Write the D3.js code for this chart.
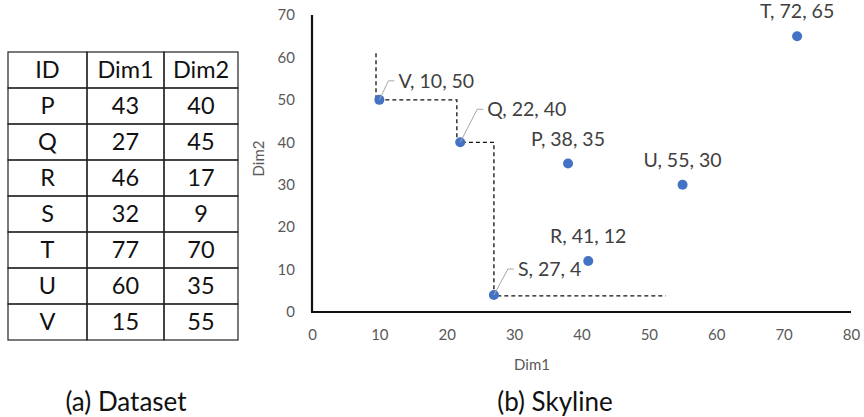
<!DOCTYPE html>
<html>
<head>
<meta charset="utf-8">
<script src="https://cdn.jsdelivr.net/npm/d3@7/dist/d3.min.js"></script>
<style>
  html, body { margin: 0; padding: 0; background: #fff; }
  svg { display: block; font-family: Lato, "Open Sans", sans-serif; }
</style>
</head>
<body>
<svg id="chart" width="864" height="417"></svg>
<script>
// ---- Data ----
const tableHeader = ["ID", "Dim1", "Dim2"];
const tableIds = ["P", "Q", "R", "S", "T", "U", "V"];
const tableDim1 = [43, 27, 46, 32, 77, 60, 15];
const tableDim2 = [40, 45, 17, 9, 70, 35, 55];

const pointIds = ["V", "Q", "P", "U", "T", "R", "S"];
const pointDim1 = [10, 22, 38, 55, 72, 41, 27];
const pointDim2 = [50, 40, 35, 30, 65, 12, 4];

const skylineX = [9.5, 9.5, 21.5, 21.5, 27, 27, 52.5];
const skylineY = [61, 50, 50, 40, 40, 3.8, 3.8];

const xTicks = [0, 10, 20, 30, 40, 50, 60, 70, 80];
const yTicks = [0, 10, 20, 30, 40, 50, 60, 70];

const captions = ["(a) Dataset", "(b) Skyline"];

// ---- Layout ----
const svg = d3.select("#chart");
const x = d3.scaleLinear().domain([0, 80]).range([312, 851]);
const y = d3.scaleLinear().domain([0, 70]).range([312, 15]);

// Table
const tbl = { left: 8, top: 52, colW: [79, 77, 74], rowH: 36 };
const rows = [tableHeader].concat(tableIds.map((id, i) => [id, String(tableDim1[i]), String(tableDim2[i])]));
const colX = [tbl.left];
tbl.colW.forEach((w, i) => colX.push(colX[i] + w));
const tg = svg.append("g");
rows.forEach((r, ri) => {
  r.forEach((cell, ci) => {
    tg.append("rect")
      .attr("x", colX[ci]).attr("y", tbl.top + ri * tbl.rowH)
      .attr("width", tbl.colW[ci]).attr("height", tbl.rowH)
      .attr("fill", "none").attr("stroke", "#222").attr("stroke-width", 1.2);
    tg.append("text")
      .attr("x", colX[ci] + tbl.colW[ci] / 2)
      .attr("y", tbl.top + ri * tbl.rowH + tbl.rowH / 2)
      .attr("dy", "0.36em")
      .attr("text-anchor", "middle")
      .attr("font-size", 23.5).attr("fill", "#111")
      .text(cell);
  });
});

// Axes
const xAxis = d3.axisBottom(x).tickValues(xTicks).tickSize(0).tickPadding(17);
const yAxis = d3.axisLeft(y).tickValues(yTicks).tickSize(0).tickPadding(17);
const gx = svg.append("g").attr("transform", `translate(0,${y(0)})`).call(xAxis);
const gy = svg.append("g").attr("transform", `translate(${x(0)},0)`).call(yAxis);
[gx, gy].forEach(g => {
  g.select(".domain").attr("stroke", "#111").attr("stroke-width", 2.2);
  g.selectAll("text").attr("font-size", 15).attr("fill", "#595959").attr("font-family", "Lato, sans-serif");
});
gy.select(".domain").attr("d", `M0,${y(70)}V${y(0)}`);
gx.select(".domain").attr("d", `M${x(0) - 1},0H${x(80)}`);

svg.append("text").attr("x", 532).attr("y", 365).attr("dy", "0.35em")
  .attr("text-anchor", "middle").attr("font-size", 15).attr("fill", "#595959").text("Dim1");
svg.append("text").attr("transform", `translate(259,${y(35) - 5}) rotate(-90)`).attr("dy", "0.35em")
  .attr("text-anchor", "middle").attr("font-size", 15).attr("fill", "#595959").text("Dim2");

// Skyline dashed path
const line = d3.line().x(d => x(d[0])).y(d => y(d[1]));
svg.append("path")
  .datum(skylineX.map((v, i) => [v, skylineY[i]]))
  .attr("d", line)
  .attr("fill", "none").attr("stroke", "#111").attr("stroke-width", 1.3)
  .attr("stroke-dasharray", "4,3");

// Points
const pts = pointIds.map((id, i) => ({ id, a: pointDim1[i], b: pointDim2[i] }));
svg.append("g").selectAll("circle").data(pts).join("circle")
  .attr("cx", d => x(d.a)).attr("cy", d => y(d.b)).attr("r", 5)
  .attr("fill", "#4472C4");

// Labels
const leaderOffsets = { V: [9, -19], Q: [17, -33], S: [14, -26] };
const lg = svg.append("g");
pts.forEach(d => {
  const px = x(d.a), py = y(d.b);
  const txt = `${d.id}, ${d.a}, ${d.b}`;
  if (leaderOffsets[d.id]) {
    const [dx, dy] = leaderOffsets[d.id];
    lg.append("path")
      .attr("d", `M${px},${py}L${px + dx},${py + dy}H${px + dx + 6}`)
      .attr("fill", "none").attr("stroke", "#a6a6a6").attr("stroke-width", 1);
    lg.append("text").attr("x", px + dx + 10).attr("y", py + dy).attr("dy", "0.36em")
      .attr("font-size", 19.5).attr("fill", "#404040").text(txt);
  } else {
    lg.append("text").attr("x", px).attr("y", py - 25).attr("dy", "0.36em")
      .attr("text-anchor", "middle").attr("font-size", 19.5).attr("fill", "#404040").text(txt);
  }
});

// Captions
svg.append("text").attr("x", 126).attr("y", 402).attr("dy", "0.36em")
  .attr("text-anchor", "middle").attr("font-size", 26).attr("fill", "#111").text(captions[0]);
svg.append("text").attr("x", 555).attr("y", 402).attr("dy", "0.36em")
  .attr("text-anchor", "middle").attr("font-size", 26).attr("fill", "#111").text(captions[1]);
</script>
</body>
</html>
